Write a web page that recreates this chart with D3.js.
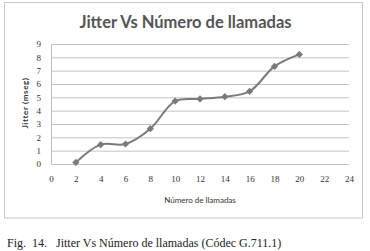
<html>
<head>
  <script src="https://d3js.org/d3.v7.min.js"></script>
  <style>
    body { margin: 0; background: #fff; }
    .gridlines line { stroke: #c4c4c4; }
    .gridlines .domain { stroke: none; }
    .axis .domain { stroke: #bdbdbd; }
    .axis line { stroke: none; }
    .axis text { font-family: "Liberation Serif", serif; font-size: 9px; fill: #333; }
  </style>
</head>
<body>
<svg id="chart" width="370" height="251"></svg>
<script>
  const llamadas = [2, 4, 6, 8, 10, 12, 14, 16, 18, 20];
  const jitter = [0.12, 1.45, 1.5, 2.65, 4.72, 4.88, 5.05, 5.45, 7.32, 8.22];
  const xTicks = [0, 2, 4, 6, 8, 10, 12, 14, 16, 18, 20, 22, 24];
  const yTicks = [0, 1, 2, 3, 4, 5, 6, 7, 8, 9];

  const data = llamadas.map((x, i) => ({x: x, y: jitter[i]}));

  const svg = d3.select("svg#chart");
  const margin = {top: 44, left: 51, right: 21, bottom: 87};
  const chartWidth = 370 - margin.left - margin.right;
  const chartHeight = 251 - margin.top - margin.bottom;

  // outer frame
  svg.append("rect")
    .attr("x", 4.5).attr("y", 2.5)
    .attr("width", 358).attr("height", 215.5)
    .attr("fill", "none")
    .attr("stroke", "#c8c8c8");

  const xScale = d3.scaleLinear().domain([0, 24]).range([0, chartWidth]);
  const yScale = d3.scaleLinear().domain([0, 9]).range([chartHeight, 0]);

  const chart = svg.append("g").attr("transform", "translate(" + margin.left + "," + margin.top + ")");

  chart.append("g")
    .attr("class", "gridlines")
    .call(d3.axisLeft(yScale).tickValues(yTicks).tickSize(-chartWidth).tickFormat(""));

  chart.append("g")
    .attr("class", "y axis")
    .call(d3.axisLeft(yScale).tickValues(yTicks).tickSize(0).tickPadding(10));

  chart.append("g")
    .attr("class", "x axis")
    .attr("transform", "translate(0," + chartHeight + ")")
    .call(d3.axisBottom(xScale).tickValues(xTicks).tickSize(0).tickPadding(12));
  chart.select(".x.axis .domain").remove();

  const line = d3.line()
    .x(d => xScale(d.x))
    .y(d => yScale(d.y))
    .curve(d3.curveCatmullRom.alpha(0.5));

  chart.append("path")
    .datum(data)
    .attr("d", line)
    .attr("fill", "none")
    .attr("stroke", "#7a7a7a")
    .attr("stroke-width", 2);

  chart.selectAll("path.marker").data(data)
    .join("path")
    .attr("class", "marker")
    .attr("d", d3.symbol().type(d3.symbolSquare).size(26))
    .attr("transform", d => "translate(" + xScale(d.x) + "," + yScale(d.y) + ") rotate(45)")
    .attr("fill", "#7a7a7a");

  // titles
  svg.append("text")
    .attr("x", 185.5).attr("y", 28)
    .attr("text-anchor", "middle")
    .attr("font-family", "Lato, sans-serif")
    .attr("font-weight", "bold")
    .attr("font-size", 16.5)
    .attr("fill", "#555")
    .text("Jitter Vs Número de llamadas");

  svg.append("text")
    .attr("x", margin.left + chartWidth / 2).attr("y", 203)
    .attr("text-anchor", "middle")
    .attr("font-family", "Lato, sans-serif")
    .attr("font-size", 8)
    .attr("fill", "#333")
    .text("Número de llamadas");

  svg.append("text")
    .attr("transform", "translate(28," + (margin.top + chartHeight / 2 - 1) + ") rotate(-90)")
    .attr("text-anchor", "middle")
    .attr("font-family", "Lato, sans-serif")
    .attr("font-weight", "bold")
    .attr("font-size", 8)
    .attr("letter-spacing", 0.6)
    .attr("fill", "#333")
    .text("Jitter (mseg)");

  svg.append("text")
    .attr("x", 7).attr("y", 247)
    .attr("font-family", "Liberation Serif, serif")
    .attr("font-size", 12)
    .attr("fill", "#222")
    .attr("xml:space", "preserve")
    .text("Fig.  14.   Jitter Vs Número de llamadas (Códec G.711.1)");
</script>
</body>
</html>
